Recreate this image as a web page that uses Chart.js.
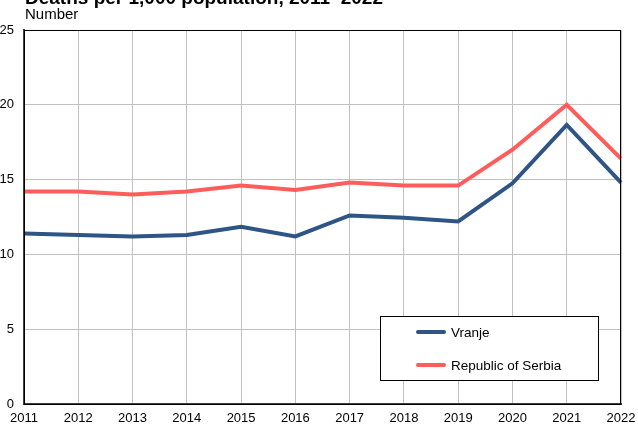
<!DOCTYPE html>
<html>
<head>
<meta charset="utf-8">
<script src="https://cdn.jsdelivr.net/npm/chart.js@4"></script>
<style>
  html, body { margin: 0; padding: 0; background: #fff; }
  #wrap { width: 638px; height: 428px; position: relative; }
</style>
</head>
<body>
<div id="wrap"><canvas id="chart"></canvas></div>
<script>
// deaths per 1,000 population
const years = ['2011', '2012', '2013', '2014', '2015', '2016', '2017', '2018', '2019', '2020', '2021', '2022'];
const vranje = [11.4, 11.3, 11.2, 11.3, 11.85, 11.2, 12.6, 12.45, 12.2, 14.75, 18.65, 14.8];
const serbia = [14.2, 14.2, 14.0, 14.2, 14.6, 14.3, 14.8, 14.6, 14.6, 17.0, 20.0, 16.4];
const yTicks = [0, 5, 10, 15, 20, 25];

const titleText = 'Deaths per 1,000 population, 2011\u20132022';
const unitText = 'Number';
const FONT = '"Liberation Sans", Arial, sans-serif';

// frame, title and boxed legend drawn by hand
const decor = {
    id: 'decor',
    afterDraw(chart) {
        const { ctx, chartArea: a } = chart;
        ctx.save();
        ctx.strokeStyle = '#000';
        ctx.lineWidth = 1;
        ctx.strokeRect(a.left + 0.5, a.top + 0.5, a.right - a.left - 1, a.bottom - a.top);

        ctx.fillStyle = '#000';
        ctx.textBaseline = 'alphabetic';
        ctx.textAlign = 'left';
        ctx.font = 'bold 19px ' + FONT;
        ctx.fillText(titleText, 25, 4);
        ctx.font = '15px ' + FONT;
        ctx.fillText(unitText, 25, 19);

        // legend box
        const bx = 380.5, by = 316.5, bw = 218, bh = 64;
        ctx.fillStyle = '#fff';
        ctx.fillRect(bx, by, bw, bh);
        ctx.strokeStyle = '#000';
        ctx.strokeRect(bx, by, bw, bh);
        ctx.textBaseline = 'middle';
        ctx.lineCap = 'round';
        chart.data.datasets.forEach((ds, i) => {
            const y = 332 + i * 33;
            ctx.strokeStyle = ds.borderColor;
            ctx.lineWidth = 4;
            ctx.beginPath();
            ctx.moveTo(418, y);
            ctx.lineTo(444, y);
            ctx.stroke();
            ctx.fillStyle = '#000';
            ctx.font = '13.5px ' + FONT;
            ctx.fillText(ds.label, 451, y + 1);
        });
        ctx.restore();
    }
};

new Chart(document.getElementById('chart'), {
    type: 'line',
    data: {
        labels: years,
        datasets: [
            { label: 'Vranje', data: vranje, borderColor: '#2e5585', borderWidth: 4, pointRadius: 0, tension: 0 },
            { label: 'Republic of Serbia', data: serbia, borderColor: '#ff5c5c', borderWidth: 4, pointRadius: 0, tension: 0 }
        ]
    },
    options: {
        responsive: true,
        maintainAspectRatio: false,
        animation: false,
        layout: { padding: { top: 30, right: 17, left: 0, bottom: 0 } },
        plugins: { legend: { display: false }, tooltip: { enabled: false } },
        scales: {
            x: {
                offset: false,
                grid: { color: '#c0c0c0', lineWidth: 1, drawTicks: false },
                border: { color: '#404040', width: 2 },
                ticks: { color: '#000', font: { family: FONT, size: 13 }, padding: 7, maxRotation: 0, autoSkip: false },
                afterFit(s) { s.height = 24; s.paddingLeft = 0; s.paddingRight = 0; }
            },
            y: {
                min: 0,
                max: 25,
                afterBuildTicks(s) { s.ticks = yTicks.map(v => ({ value: v })); },
                grid: { color: '#c0c0c0', lineWidth: 1, drawTicks: false },
                border: { color: '#404040', width: 2 },
                ticks: { color: '#000', font: { family: FONT, size: 13 }, padding: 10 },
                afterFit(s) { s.width = 24; s.paddingTop = 0; s.paddingBottom = 0; }
            }
        }
    },
    plugins: [decor]
});
</script>
</body>
</html>
